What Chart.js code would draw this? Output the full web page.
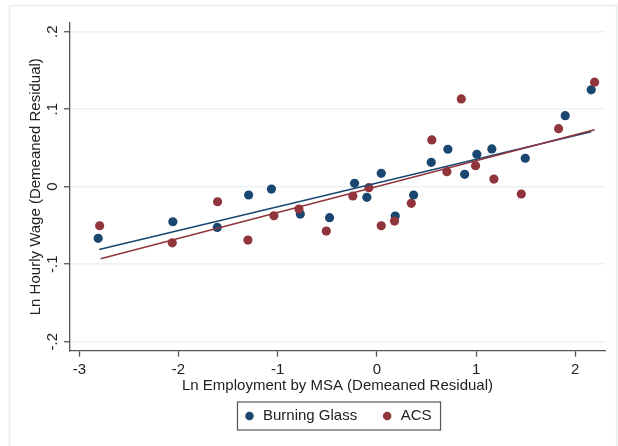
<!DOCTYPE html>
<html>
<head>
<meta charset="utf-8">
<script src="https://cdn.jsdelivr.net/npm/chart.js@4"></script>
<style>
  html, body { margin: 0; padding: 0; background: #fff; }
  #wrap { width: 618px; height: 446px; }
</style>
</head>
<body>
<div id="wrap"><canvas id="scatter-chart" width="618" height="446"></canvas></div>
<script>
// Burning Glass vs ACS binned scatter
const bgX = [-2.81, -2.057, -1.609, -1.293, -1.063, -0.772, -0.477, -0.225, -0.101, 0.044,
             0.185, 0.37, 0.548, 0.716, 0.885, 1.008, 1.159, 1.496, 1.899, 2.161];
const bgY = [-0.0666, -0.0452, -0.0525, -0.0107, -0.003, -0.0353, -0.040, 0.0044, -0.0137, 0.0173,
             -0.0379, -0.0107, 0.0315, 0.0483, 0.016, 0.0419, 0.0487, 0.0367, 0.0917, 0.125];

const acsX = [-2.795, -2.063, -1.606, -1.30, -1.038, -0.786, -0.51, -0.242, -0.081, 0.044,
              0.178, 0.347, 0.554, 0.706, 0.851, 0.995, 1.18, 1.456, 1.832, 2.195];
const acsY = [-0.0504, -0.0724, -0.0194, -0.0689, -0.0375, -0.0288, -0.0572, -0.012, -0.0013, -0.0504,
              -0.0443, -0.0215, 0.0603, 0.0194, 0.1132, 0.0271, 0.0099, -0.0094, 0.0749, 0.1349];

// fitted lines: end points
const bgFitX = [-2.80, 2.161];
const bgFitY = [-0.081, 0.071];
const acsFitX = [-2.785, 2.195];
const acsFitY = [-0.093, 0.0735];

const xTicks = [-3, -2, -1, 0, 1, 2];
const yTicks = [-0.2, -0.1, 0, 0.1, 0.2];
const yTickLabels = ['-.2', '-.1', '0', '.1', '.2'];

const navy = '#1a476f';
const maroon = '#90353b';

const pts = (xs, ys) => xs.map((x, i) => ({ x: x, y: ys[i] }));

// stata-like frame around graph + border round the legend
const decor = {
    id: 'decor',
    beforeDraw(chart) {
        const c = chart.ctx;
        c.save();
        c.strokeStyle = '#e6eef0';
        c.lineWidth = 1.5;
        c.strokeRect(9.5, 5.5, 607, 470);
        c.restore();
    },
    afterDraw(chart) {
        const hb = chart.legend.legendHitBoxes;
        if (!hb || !hb.length) return;
        const last = hb[hb.length - 1];
        const cy = hb[0].top + hb[0].height / 2;
        const c = chart.ctx;
        c.save();
        c.strokeStyle = '#555';
        c.lineWidth = 1.2;
        c.strokeRect(hb[0].left - 6, cy - 14, last.left + last.width + 9 - (hb[0].left - 6), 28);
        c.restore();
    }
};

const ctx = document.getElementById('scatter-chart').getContext('2d');
Chart.defaults.font.family = '"Liberation Sans", Arial, sans-serif';
Chart.defaults.font.size = 15;
Chart.defaults.color = '#222';

new Chart(ctx, {
    type: 'scatter',
    data: {
        datasets: [
            {
                label: 'Burning Glass',
                data: pts(bgX, bgY),
                backgroundColor: navy,
                borderWidth: 0,
                pointRadius: 4.6,
                order: 3
            },
            {
                label: 'ACS',
                data: pts(acsX, acsY),
                backgroundColor: maroon,
                borderWidth: 0,
                pointRadius: 4.6,
                order: 2
            },
            {
                label: 'fit_bg',
                data: pts(bgFitX, bgFitY),
                showLine: true,
                borderColor: navy,
                borderWidth: 1.5,
                pointRadius: 0,
                order: 1
            },
            {
                label: 'fit_acs',
                data: pts(acsFitX, acsFitY),
                showLine: true,
                borderColor: maroon,
                borderWidth: 1.5,
                pointRadius: 0,
                order: 0
            }
        ]
    },
    options: {
        responsive: false,
        animation: false,
        layout: { padding: { left: 10, right: 13, top: 22.7, bottom: 12.5 } },
        plugins: {
            tooltip: { enabled: false },
            legend: {
                position: 'bottom',
                fullSize: false,
                labels: {
                    usePointStyle: true,
                    pointStyle: 'circle',
                    boxWidth: 12,
                    boxHeight: 6,
                    padding: 24,
                    color: '#222',
                    font: { size: 15 },
                    filter: (item) => item.datasetIndex < 2,
                    sort: (a, b) => a.datasetIndex - b.datasetIndex
                }
            }
        },
        scales: {
            x: {
                type: 'linear',
                min: -3.094,
                max: 2.30,
                afterBuildTicks: (s) => { s.ticks = xTicks.map(v => ({ value: v })); },
                afterFit: (s) => { s.height = 33.8; },
                ticks: { padding: 4, color: '#222', callback: (v) => String(v) },
                grid: { drawOnChartArea: false, tickLength: 6, tickColor: '#555', tickWidth: 1.3 },
                border: { display: true, color: '#555', width: 1.3 },
                title: {
                    display: true,
                    text: 'Ln Employment by MSA (Demeaned Residual)',
                    color: '#222',
                    padding: { top: 0, bottom: -10.2 }
                }
            },
            y: {
                type: 'linear',
                min: -0.2116,
                max: 0.2116,
                afterBuildTicks: (s) => { s.ticks = yTicks.map(v => ({ value: v })); },
                afterFit: (s) => { s.width = 60; },
                ticks: {
                    minRotation: 90,
                    maxRotation: 90,
                    crossAlign: 'center',
                    padding: 2.2,
                    color: '#222',
                    callback: (v) => {
                        const i = yTicks.findIndex(t => Math.abs(t - v) < 1e-9);
                        return i >= 0 ? yTickLabels[i] : '';
                    }
                },
                grid: { color: '#eaf2f3', lineWidth: 1.5, tickLength: 6, tickColor: '#555', tickWidth: 1.3 },
                border: { display: true, color: '#555', width: 1.3 },
                title: {
                    display: true,
                    text: 'Ln Hourly Wage (Demeaned Residual)',
                    color: '#222',
                    padding: { top: 16.5, bottom: 0 }
                }
            }
        }
    },
    plugins: [decor]
});
</script>
</body>
</html>
